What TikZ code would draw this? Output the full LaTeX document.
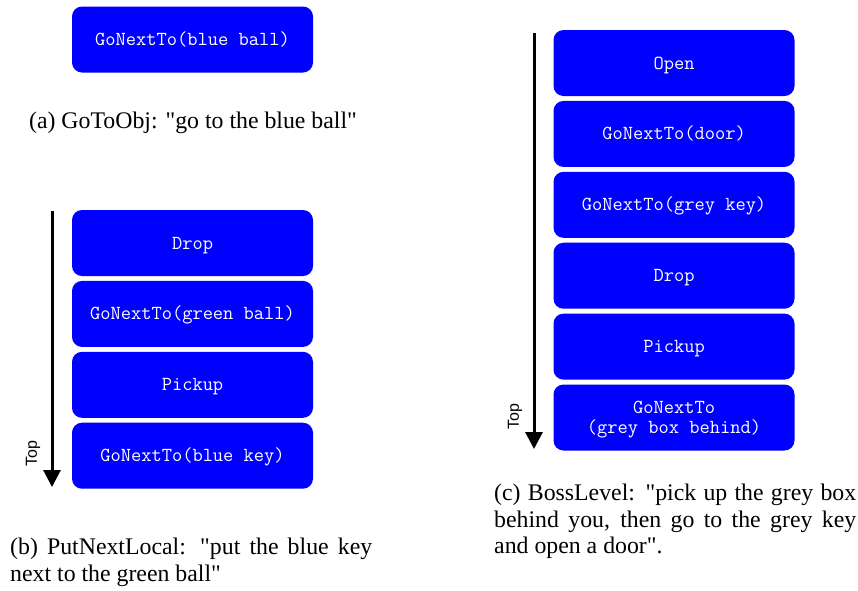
\documentclass[tikz,border=0pt]{standalone}
\usepackage{fontspec}
\setmainfont{Liberation Serif}[Ligatures=TeXOff]
\setsansfont{Liberation Sans}
\usetikzlibrary{arrows.meta,positioning}

\tikzset{
  action/.style={fill=blue,text=white,rounded corners=10pt,
    minimum width=241pt,minimum height=66pt,inner sep=2pt,align=center,
    text height=12pt,text depth=0pt,
    font=\ttfamily\fontsize{19.9}{20}\selectfont},
  stackarrow/.style={line width=3pt,-{Triangle[width=17pt,length=17pt]}},
  toplabel/.style={rotate=90,inner sep=0pt,font=\sffamily\fontsize{16}{18}\selectfont},
  caption/.style={text width=362pt,align=justify,inner sep=0pt,
    font=\fontsize{23.8}{26.5}\selectfont}
}

\begin{document}
\begin{tikzpicture}[x=1pt,y=-1pt,node distance=4.5pt]
  \useasboundingbox (0,0) rectangle (858,590);
  % (a) GoToObj
  \node[action] (goball) at (192.5,39.5) {GoNextTo(blue ball)};
  \node[inner sep=0pt,anchor=base,font=\fontsize{23.8}{26.5}\selectfont] (capa) at (193,128) {(a) GoToObj: "go to the blue ball"};

  % (b) PutNextLocal
  \node[action] (bdrop) at (192.5,243) {Drop};
  \node[action,below=of bdrop] (bgreen) {GoNextTo(green ball)};
  \node[action,below=of bgreen] (bpick) {Pickup};
  \node[action,below=of bpick] (bkey) {GoNextTo(blue key)};
  \coordinate (btop) at (52,211);
  \coordinate (bend) at (52,487);
  \draw[stackarrow] (btop) -- (bend);
  \node[toplabel] (btoplbl) at (33,454) {Top};
  \node[caption,anchor=north west] (capb) at (10,538) {(b) PutNextLocal: "put the blue key next to the green ball"};

  % (c) BossLevel
  \node[action] (copen) at (674,63) {Open};
  \node[action,below=of copen] (cdoor) {GoNextTo(door)};
  \node[action,below=of cdoor] (ckey) {GoNextTo(grey key)};
  \node[action,below=of ckey] (cdrop) {Drop};
  \node[action,below=of cdrop] (cpick) {Pickup};
  \node[action,text height=32pt,below=of cpick] (cbox) {GoNextTo\\(grey box behind)};
  \coordinate (ctop) at (534,33);
  \coordinate (cend) at (534,449);
  \draw[stackarrow] (ctop) -- (cend);
  \node[toplabel] (ctoplbl) at (515,417) {Top};
  \node[caption,anchor=north west] (capc) at (494,484) {(c) BossLevel: "pick up the grey box behind you, then go to the grey key\linebreak and open a door".};
\end{tikzpicture}
\end{document}
